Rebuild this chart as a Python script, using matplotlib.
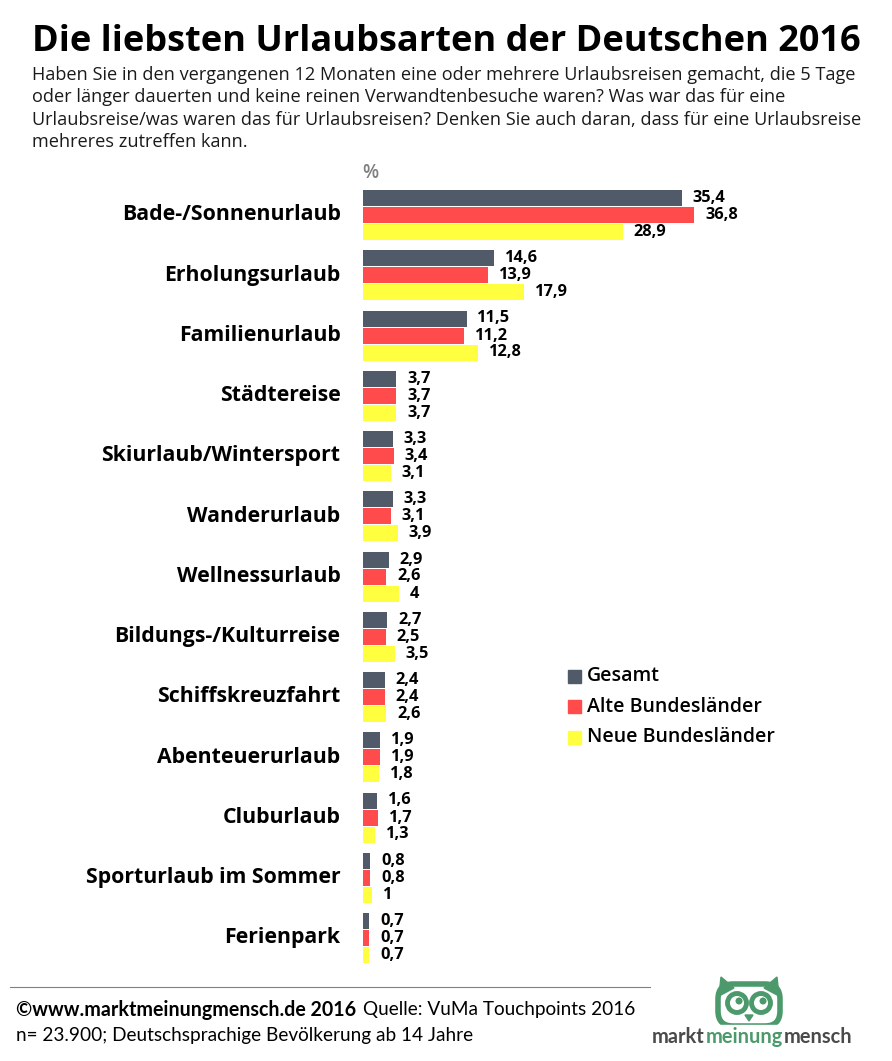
import numpy as np
import matplotlib.pyplot as plt
from matplotlib.patches import Circle, FancyBboxPatch, Polygon

plt.rcParams['font.family'] = ['Open Sans', 'DejaVu Sans']

kategorien = ['Bade-/Sonnenurlaub', 'Erholungsurlaub', 'Familienurlaub', 'Städtereise',
              'Skiurlaub/Wintersport', 'Wanderurlaub', 'Wellnessurlaub', 'Bildungs-/Kulturreise',
              'Schiffskreuzfahrt', 'Abenteuerurlaub', 'Cluburlaub', 'Sporturlaub im Sommer',
              'Ferienpark']
gesamt = [35.4, 14.6, 11.5, 3.7, 3.3, 3.3, 2.9, 2.7, 2.4, 1.9, 1.6, 0.8, 0.7]
alte = [36.8, 13.9, 11.2, 3.7, 3.4, 3.1, 2.6, 2.5, 2.4, 1.9, 1.7, 0.8, 0.7]
neue = [28.9, 17.9, 12.8, 3.7, 3.1, 3.9, 4, 3.5, 2.6, 1.8, 1.3, 1, 0.7]
serien = ['Gesamt', 'Alte Bundesländer', 'Neue Bundesländer']
farben = ['#505A69', '#FF4B4B', '#FFFF40']

W, H = 892, 1061
fig = plt.figure(figsize=(W / 100, H / 100), dpi=100)

# background overlay in pixel coords for texts and logo
bg = fig.add_axes([0, 0, 1, 1])
bg.set_xlim(0, W)
bg.set_ylim(H, 0)
bg.axis('off')

# chart axes
x0, x1 = 363, 813
y_top, y_bot = 183, 970
ax = fig.add_axes([x0 / W, 1 - y_bot / H, (x1 - x0) / W, (y_bot - y_top) / H])
ax.set_xlim(0, 50)
pitch = 60.25
ax.set_ylim((y_bot - 215) / pitch, -(215 - y_top) / pitch)
ax.axis('off')

y = np.arange(len(kategorien))
bh = 16 / pitch
off = 17 / pitch
for k, (werte, farbe, name) in enumerate(zip([gesamt, alte, neue], farben, serien)):
    pos = y + (k - 1) * off
    ax.barh(pos, werte, height=bh, color=farbe, label=name)
    for p, v in zip(pos, werte):
        ax.text(v + 1.2, p, f'{v:g}'.replace('.', ','), ha='left', va='center',
                fontsize=11.8, fontweight='bold', color='black')

for yi, name in zip(y, kategorien):
    ax.text(-2.5, yi, name, ha='right', va='center', fontsize=15.3,
            fontweight='bold', color='black', clip_on=False)

# title / subtitle
bg.text(32, 42, 'Die liebsten Urlaubsarten der Deutschen 2016', fontsize=26,
        fontweight='bold', va='center', ha='left')
sub = ('Haben Sie in den vergangenen 12 Monaten eine oder mehrere Urlaubsreisen gemacht, die 5 Tage\n'
       'oder länger dauerten und keine reinen Verwandtenbesuche waren? Was war das für eine\n'
       'Urlaubsreise/was waren das für Urlaubsreisen? Denken Sie auch daran, dass für eine Urlaubsreise\n'
       'mehreres zutreffen kann.')
bg.text(32, 66, sub, fontsize=13.1, va='top', ha='left', linespacing=1.32, color='#1a1a1a')
bg.text(362, 173, '%', fontsize=13.5, color='#808080', fontweight='semibold', va='center')

# legend
for k, (name, farbe) in enumerate(zip(serien, farben)):
    yy = 676 + k * 30.5
    bg.add_patch(plt.Rectangle((568, yy - 6.5), 13, 13, color=farbe))
    bg.text(587, yy, name, fontsize=14, fontweight='semibold', va='center')

# footer
bg.plot([10, 650], [987, 987], color='#808080', lw=0.8)
fam = ['Lato', 'DejaVu Sans']
bg.text(16, 1010, '©www.marktmeinungmensch.de 2016', fontsize=14.1, fontweight='bold',
        va='center', family=fam)
bg.text(363, 1010, 'Quelle: VuMa Touchpoints 2016', fontsize=13.7, va='center', family=fam)
bg.text(16, 1036, 'n= 23.900; Deutschsprachige Bevölkerung ab 14 Jahre', fontsize=13.7,
        va='center', family=fam)

# logo
gr = '#4C9A6C'
bg.add_patch(FancyBboxPatch((718, 984), 62, 42, boxstyle='round,pad=0,rounding_size=15',
                            fc='none', ec=gr, lw=4))
bg.add_patch(Polygon([[719, 996], [721, 977], [734, 988]], closed=True, fc=gr, ec=gr))
bg.add_patch(Polygon([[779, 996], [777, 977], [764, 988]], closed=True, fc=gr, ec=gr))
for cx in (737, 761):
    bg.add_patch(Circle((cx, 1003), 9.5, fc='white', ec=gr, lw=3.5))
    bg.add_patch(Circle((cx + 2, 1001), 2.8, fc=gr, ec=gr))
bg.add_patch(Polygon([[745, 1015], [753, 1015], [749, 1021]], closed=True, fc=gr, ec=gr))
bg.add_patch(plt.Rectangle((706, 1025), 86, 6, color='white'))
lx = 652
for part, col in (('markt', '#4a4a4a'), ('meinung', gr), ('mensch', '#4a4a4a')):
    tt = bg.text(lx, 1037, part, fontsize=14.4, fontweight='bold', color=col, va='center',
                 ha='left', family=fam)
    fig.canvas.draw()
    bb = tt.get_window_extent()
    lx += bb.width + 1

fig.savefig('out.png', dpi=100)
